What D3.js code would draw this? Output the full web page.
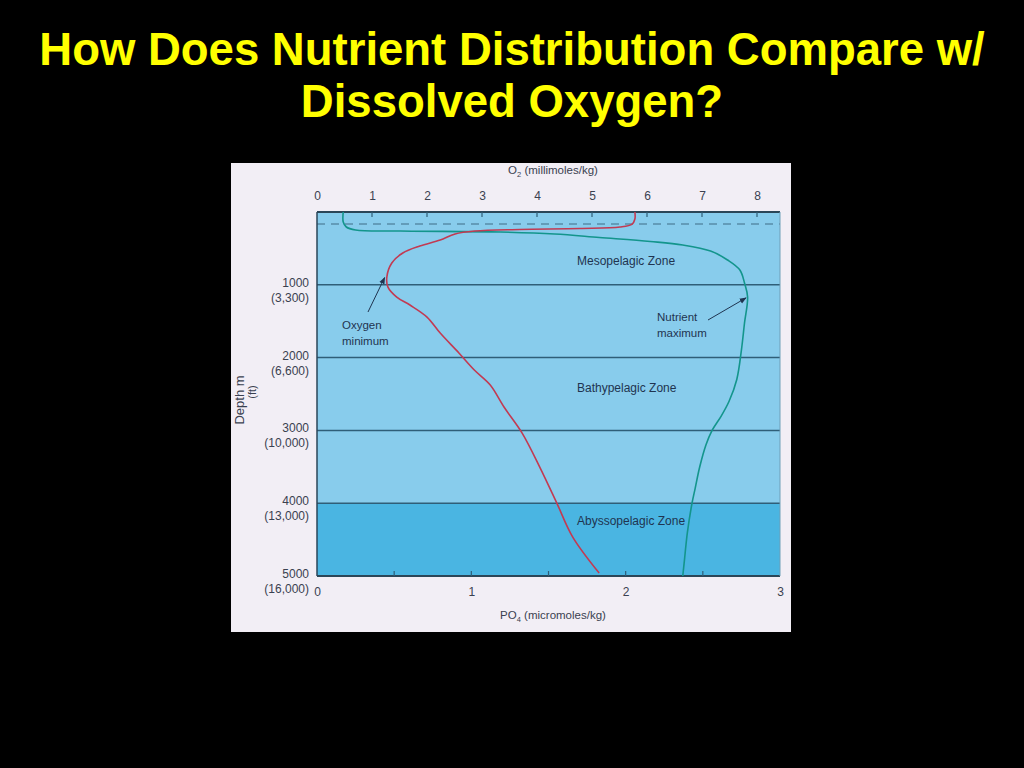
<!DOCTYPE html>
<html>
<head>
<meta charset="utf-8">
<script src="https://cdn.jsdelivr.net/npm/d3@7"></script>
<style>
  html, body { margin: 0; padding: 0; background: #000; }
  svg { display: block; }
</style>
</head>
<body>
<svg id="chart" width="1024" height="768"></svg>
<script>
// ---- Data ----
const titleLines = ["How Does Nutrient Distribution Compare w/", "Dissolved Oxygen?"];
const o2Ticks = [0, 1, 2, 3, 4, 5, 6, 7, 8];
const po4Labels = [0, 1, 2, 3];
const po4MinorTicks = [0.5, 1, 1.5, 2, 2.5];
const depthTicks = [1000, 2000, 3000, 4000, 5000];
const depthFtLabels = ["(3,300)", "(6,600)", "(10,000)", "(13,000)", "(16,000)"];
const gridDepths = [1000, 2000, 3000, 4000];
const surfaceLayerDepth = 165;

// Oxygen profile (O2 millimoles/kg vs depth m)
const o2Depth  = [0, 96, 165, 206, 227, 240, 261, 302, 385, 467, 563, 701, 893, 1031, 1168, 1278, 1443, 1663, 1937, 2171, 2377, 2679, 3037, 3504, 3998, 4466, 4960];
const o2Values = [5.78, 5.78, 5.73, 5.51, 4.78, 3.69, 2.87, 2.51, 2.24, 1.87, 1.56, 1.36, 1.27, 1.29, 1.45, 1.69, 2.00, 2.24, 2.58, 2.86, 3.15, 3.40, 3.73, 4.05, 4.36, 4.65, 5.13];

// Phosphate profile (PO4 micromoles/kg vs depth m)
const po4Depth  = [0, 137, 206, 247, 261, 275, 302, 350, 405, 453, 536, 659, 797, 975, 1168, 1525, 1896, 2300, 2600, 2800, 3000, 3200, 3500, 3800, 4000, 4400, 4800, 5000];
const po4Values = [0.17, 0.17, 0.19, 0.25, 0.54, 1.19, 1.54, 1.83, 2.16, 2.37, 2.55, 2.66, 2.74, 2.77, 2.79, 2.77, 2.75, 2.72, 2.67, 2.62, 2.56, 2.52, 2.48, 2.45, 2.43, 2.40, 2.38, 2.37];

const zones = [
  { name: "Mesopelagic Zone", depth: 725 },
  { name: "Bathypelagic Zone", depth: 2470 },
  { name: "Abyssopelagic Zone", depth: 4300 }
];

// ---- Layout ----
const svg = d3.select("#chart");
const panel = { x: 231, y: 163, w: 560, h: 469 };
const plot = { left: 317, right: 780, top: 212, bottom: 576 };

const xO2 = d3.scaleLinear().domain([0, 8]).range([plot.left, 757]);
const xPO4 = d3.scaleLinear().domain([0, 3]).range([plot.left, plot.right]);
const y = d3.scaleLinear().domain([0, 5000]).range([plot.top, plot.bottom]);

const font = "'Liberation Sans', Arial, Helvetica, sans-serif";
const textCol = "#3a4150";
const innerText = "#1f3450";
const gridCol = "#2f5e78";

// Background
svg.append("rect").attr("width", 1024).attr("height", 768).attr("fill", "#000");

// Title
svg.append("g").selectAll("text").data(titleLines).join("text")
  .attr("x", 512).attr("y", (d, i) => 65 + i * 52)
  .attr("text-anchor", "middle")
  .attr("font-family", font).attr("font-weight", "bold")
  .attr("font-size", 45.5).attr("fill", "#ffff00")
  .text(d => d);

// Panel
svg.append("rect").attr("x", panel.x).attr("y", panel.y)
  .attr("width", panel.w).attr("height", panel.h).attr("fill", "#f2eef5");

// Plot fills
svg.append("rect").attr("x", plot.left).attr("y", y(0))
  .attr("width", plot.right - plot.left).attr("height", y(4000) - y(0))
  .attr("fill", "#88ccec");
svg.append("rect").attr("x", plot.left).attr("y", y(4000))
  .attr("width", plot.right - plot.left).attr("height", y(5000) - y(4000))
  .attr("fill", "#4ab5e2");

// Grid lines
svg.append("g").selectAll("line").data(gridDepths).join("line")
  .attr("x1", plot.left).attr("x2", plot.right)
  .attr("y1", d => y(d)).attr("y2", d => y(d))
  .attr("stroke", gridCol).attr("stroke-width", 1.5);

// Surface dashed line
svg.append("line")
  .attr("x1", plot.left).attr("x2", plot.right)
  .attr("y1", y(surfaceLayerDepth)).attr("y2", y(surfaceLayerDepth))
  .attr("stroke", "#3f6c86").attr("stroke-width", 1.2)
  .attr("stroke-dasharray", "8,6");

// Frame
svg.append("line").attr("x1", plot.left).attr("x2", plot.right).attr("y1", plot.top).attr("y2", plot.top)
  .attr("stroke", "#2b4658").attr("stroke-width", 2);
svg.append("line").attr("x1", plot.left).attr("x2", plot.right).attr("y1", plot.bottom).attr("y2", plot.bottom)
  .attr("stroke", "#2b4658").attr("stroke-width", 2);
svg.append("line").attr("x1", plot.left).attr("x2", plot.left).attr("y1", plot.top).attr("y2", plot.bottom)
  .attr("stroke", "#2b4658").attr("stroke-width", 1.5);
svg.append("line").attr("x1", plot.right).attr("x2", plot.right).attr("y1", plot.top).attr("y2", plot.bottom)
  .attr("stroke", "#6f9fb8").attr("stroke-width", 1);

// Top axis (O2)
const topAxis = d3.axisTop(xO2).tickValues(o2Ticks).tickSize(0).tickPadding(0);
const gTop = svg.append("g").attr("transform", `translate(0,${plot.top})`).call(topAxis);
gTop.select(".domain").remove();
gTop.selectAll("text").attr("y", -12).attr("font-family", font).attr("font-size", 12).attr("fill", textCol);
svg.append("g").selectAll("line").data(o2Ticks.filter(d => d > 0)).join("line")
  .attr("x1", d => xO2(d)).attr("x2", d => xO2(d))
  .attr("y1", plot.top).attr("y2", plot.top + 5)
  .attr("stroke", gridCol).attr("stroke-width", 1.2);
svg.append("text").attr("x", 553).attr("y", 174).attr("text-anchor", "middle")
  .attr("font-family", font).attr("font-size", 11.5).attr("fill", textCol)
  .html('O<tspan font-size="7.5" dy="3">2</tspan><tspan dy="-3"> (millimoles/kg)</tspan>');

// Bottom axis (PO4)
const bottomAxis = d3.axisBottom(xPO4).tickValues(po4Labels).tickSize(0).tickPadding(0).tickFormat(d3.format("d"));
const gBot = svg.append("g").attr("transform", `translate(0,${plot.bottom})`).call(bottomAxis);
gBot.select(".domain").remove();
gBot.selectAll("text").attr("y", 11).attr("font-family", font).attr("font-size", 12).attr("fill", textCol);
svg.append("g").selectAll("line").data(po4MinorTicks).join("line")
  .attr("x1", d => xPO4(d)).attr("x2", d => xPO4(d))
  .attr("y1", plot.bottom).attr("y2", plot.bottom - 5)
  .attr("stroke", gridCol).attr("stroke-width", 1.2);
svg.append("text").attr("x", 553).attr("y", 619).attr("text-anchor", "middle")
  .attr("font-family", font).attr("font-size", 11.5).attr("fill", textCol)
  .html('PO<tspan font-size="7.5" dy="3">4</tspan><tspan dy="-3"> (micromoles/kg)</tspan>');

// Depth labels
const gDepth = svg.append("g");
gDepth.selectAll("text.m").data(depthTicks).join("text").attr("class", "m")
  .attr("x", 309).attr("y", d => y(d) + 2).attr("text-anchor", "end")
  .attr("font-family", font).attr("font-size", 12).attr("fill", textCol)
  .text(d => d);
gDepth.selectAll("text.ft").data(depthTicks).join("text").attr("class", "ft")
  .attr("x", 309).attr("y", (d) => y(d) + 17).attr("text-anchor", "end")
  .attr("font-family", font).attr("font-size", 12).attr("fill", textCol)
  .text((d, i) => depthFtLabels[i]);
svg.append("text").attr("transform", "translate(244,400) rotate(-90)")
  .attr("text-anchor", "middle").attr("font-family", font).attr("font-size", 13).attr("fill", textCol)
  .text("Depth m");
svg.append("text").attr("transform", "translate(256,392) rotate(-90)")
  .attr("text-anchor", "middle").attr("font-family", font).attr("font-size", 11).attr("fill", textCol)
  .text("(ft)");

// Zone labels
svg.append("g").selectAll("text").data(zones).join("text")
  .attr("x", 577).attr("y", d => y(d.depth))
  .attr("font-family", font).attr("font-size", 12).attr("fill", innerText)
  .text(d => d.name);

// Curves
const curve = d3.curveCatmullRom.alpha(0.5);
const o2Line = d3.line().x(d => xO2(d[0])).y(d => y(d[1])).curve(curve);
const po4Line = d3.line().x(d => xPO4(d[0])).y(d => y(d[1])).curve(curve);

svg.append("path").datum(po4Values.map((v, i) => [v, po4Depth[i]]))
  .attr("d", po4Line).attr("fill", "none").attr("stroke", "#13958c").attr("stroke-width", 1.6);
svg.append("path").datum(o2Values.map((v, i) => [v, o2Depth[i]]))
  .attr("d", o2Line).attr("fill", "none").attr("stroke", "#c23a52").attr("stroke-width", 1.6);

// Annotations
const defs = svg.append("defs");
defs.append("marker").attr("id", "arr").attr("viewBox", "0 0 10 10")
  .attr("refX", 9).attr("refY", 5).attr("markerWidth", 7).attr("markerHeight", 7)
  .attr("orient", "auto")
  .append("path").attr("d", "M0,1 L10,5 L0,9 Z").attr("fill", "#1f3450");

svg.append("line").attr("x1", 368).attr("y1", 312).attr("x2", xO2(1.23)).attr("y2", y(900))
  .attr("stroke", "#1f3450").attr("stroke-width", 1).attr("marker-end", "url(#arr)");
svg.append("line").attr("x1", 708).attr("y1", 320).attr("x2", xPO4(2.78)).attr("y2", y(1180))
  .attr("stroke", "#1f3450").attr("stroke-width", 1).attr("marker-end", "url(#arr)");

const notes = [
  { x: 342, y: 329, t: "Oxygen" }, { x: 342, y: 345, t: "minimum" },
  { x: 657, y: 321, t: "Nutrient" }, { x: 657, y: 337, t: "maximum" }
];
svg.append("g").selectAll("text").data(notes).join("text")
  .attr("x", d => d.x).attr("y", d => d.y)
  .attr("font-family", font).attr("font-size", 11.5).attr("fill", innerText)
  .text(d => d.t);
</script>
</body>
</html>
